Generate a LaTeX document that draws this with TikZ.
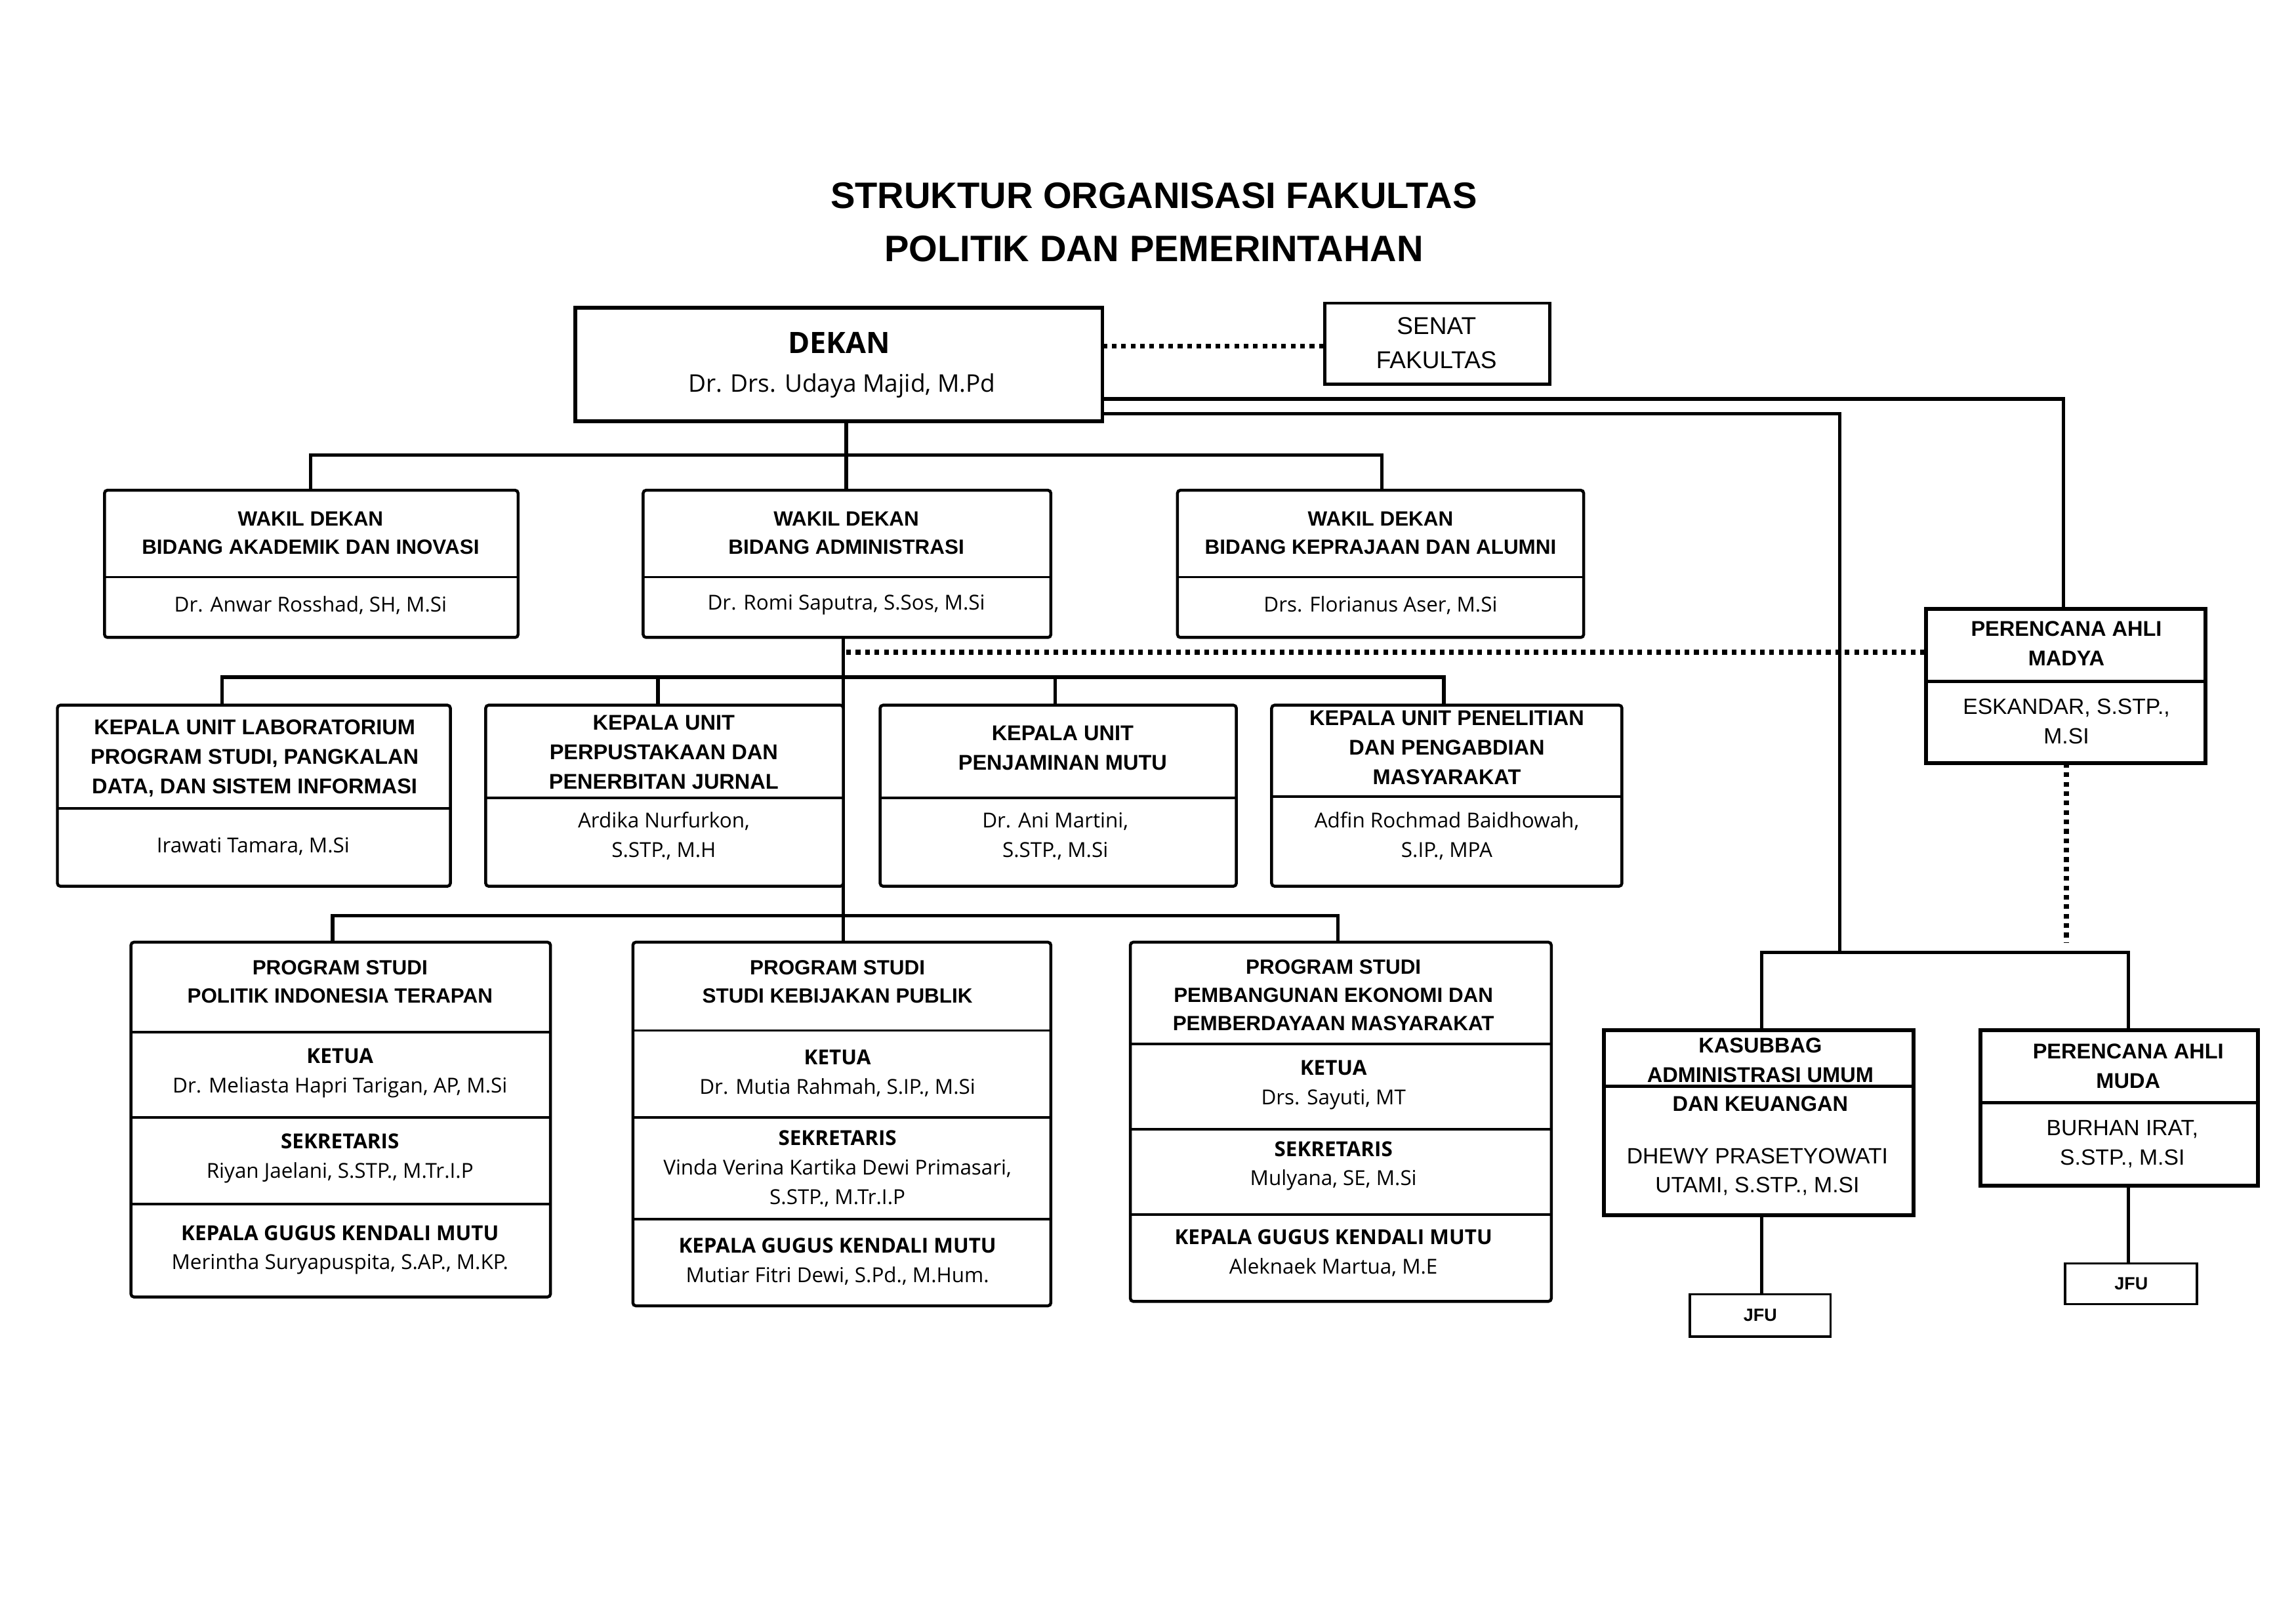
\documentclass[tikz,border=0pt]{standalone}
\usepackage{fontspec}
\setmainfont{Liberation Sans}
\newfontfamily\nf{Open Sans}
\usetikzlibrary{fit}
\begin{document}
\begin{tikzpicture}[x=1pt,y=-1pt,
 box/.style={draw,line width=2pt,fill=white,inner sep=0pt,rounded corners=2pt},
 tbox/.style={draw,line width=2.6pt,fill=white,inner sep=0pt},
 ln/.style={line width=2.4pt},
 dt/.style={line width=3.2pt,dash pattern=on 3.2pt off 3.2pt},
 hd/.style={font=\fontsize{14}{19}\selectfont\bfseries,align=center},
 nm/.style={font=\nf\fontsize{14}{20}\selectfont,align=center},
 rg/.style={font=\fontsize{15}{20}\selectfont,align=center},
 hb/.style={font=\fontsize{14.5}{20}\selectfont\bfseries,align=center}]
\useasboundingbox[fill=white] (0,0) rectangle (1560,1103);
% title
\node[font=\fontsize{25}{36}\selectfont\bfseries,align=center] (title) at (784,151) {STRUKTUR ORGANISASI FAKULTAS\\POLITIK DAN PEMERINTAHAN};
% box frames
\node[tbox,fit={(391,209)(749,286)}] (dekan) {};
\node[tbox,line width=2pt,fit={(900,206)(1053,261)}] (senat) {};
\node[box,fit={(72,334)(351,432)}] (w1) {};
\node[box,fit={(438,334)(713,432)}] (w2) {};
\node[box,fit={(801,334)(1075,432)}] (w3) {};
\node[box,fit={(40,480)(305,601)}] (k1) {};
\node[box,fit={(331,480)(572,601)}] (k2) {};
\node[box,fit={(599,480)(839,601)}] (k3) {};
\node[box,fit={(865,480)(1101,601)}] (k4) {};
\node[box,fit={(90,641)(373,880)}] (p1) {};
\node[box,fit={(431,641)(713,886)}] (p2) {};
\node[box,fit={(769,641)(1053,883)}] (p3) {};
\node[tbox,fit={(1310,415)(1497,517)}] (madya) {};
\node[tbox,fit={(1091,701)(1299,824)}] (kasub) {};
\node[tbox,fit={(1347,701)(1533,804)}] (muda) {};
\node[draw,line width=1.6pt,fill=white,fit={(1149,880)(1243,907)},inner sep=0] (jfu1) {};
\node[draw,line width=1.6pt,fill=white,fit={(1404,859)(1492,885)},inner sep=0] (jfu2) {};
% connectors
\coordinate (d1) at (575,309);
\coordinate (a) at (573,460);
\coordinate (b) at (573,622);
\coordinate (r) at (1250,647);
\begin{scope}[on background layer/.style={}]
\end{scope}
\begin{pgfinterruptboundingbox}\end{pgfinterruptboundingbox}
\draw[dt] (dekan.east|-senat.west) ++(0,-6) coordinate (s0) (749,235) -- (senat.west|-0,235);
\draw[ln] (dekan.south-|d1) -- (d1);
\draw[ln] (w1.north-|211,0) -- (211,309) -- (939,309) -- (w3.north-|939,0);
\draw[ln] (d1) -- (w2.north-|d1);
\draw[ln] (w2.south-|a) -- (b);
\draw[ln] (k1.north-|151,0) -- (151,460) -- (981,460) -- (k4.north-|981,0);
\draw[ln] (447,460) -- (k2.north-|447,0);
\draw[ln] (717,460) -- (k3.north-|717,0);
\draw[ln] (p1.north-|226,0) -- (226,622) -- (909,622) -- (p3.north-|909,0);
\draw[ln] (b) -- (p2.north-|573,0);
\draw[dt] (575,443) -- (madya.west|-0,443);
\draw[ln] (749,271) -- (1402,271) -- (madya.north-|1402,0);
\draw[ln] (749,281) -- (1250,281) -- (r);
\draw[dt] (madya.south-|1404,0) -- (1404,640);
\draw[ln] (kasub.north-|1197,0) -- (1197,647) -- (1446,647) -- (muda.north-|1446,0);
\draw[ln] (kasub.south-|1197,0) -- (jfu1.north-|1197,0);
\draw[ln] (muda.south-|1446,0) -- (jfu2.north-|1446,0);
% redraw boxes on top
\foreach \n in {w1,w2,w3,k1,k2,k3,k4,p1,p2,p3}{\draw[line width=2pt,rounded corners=2pt,fill=white] (\n.north west) rectangle (\n.south east);}
\foreach \n in {madya,kasub,muda}{\draw[line width=2.6pt,fill=white] (\n.north west) rectangle (\n.south east);}
\draw[line width=1.6pt,fill=white] (jfu1.north west) rectangle (jfu1.south east);
\draw[line width=1.6pt,fill=white] (jfu2.north west) rectangle (jfu2.south east);
% dividers
\foreach \n/\y in {w1/392,w2/392,w3/392,k1/549,k2/542,k3/542,k4/541,p1/701,p1/759,p1/818,p2/700,p2/759,p2/828,p3/709,p3/767,p3/825}
 {\draw[line width=1.6pt] (\n.west|-0,\y) -- (\n.east|-0,\y);}
\foreach \n/\y in {madya/463,kasub/738,muda/749}
 {\draw[line width=2.4pt] (\n.west|-0,\y) -- (\n.east|-0,\y);}
% texts
\node[font=\nf\fontsize{20}{24}\selectfont\bfseries] at (570,233) {DEKAN};
\node[font=\nf\fontsize{16.5}{20}\selectfont] at (572,262) {Dr. Drs. Udaya Majid, M.Pd};
\node[rg,font=\fontsize{16.5}{23}\selectfont] at (976,233) {SENAT\\FAKULTAS};
\node[hd] at (211,362) {WAKIL DEKAN\\BIDANG AKADEMIK DAN INOVASI};
\node[nm] at (211,411) {Dr. Anwar Rosshad, SH, M.Si};
\node[hd] at (575,362) {WAKIL DEKAN\\BIDANG ADMINISTRASI};
\node[nm] at (575,411) {Dr. Romi Saputra, S.Sos, M.Si};
\node[hd] at (938,362) {WAKIL DEKAN\\BIDANG KEPRAJAAN DAN ALUMNI};
\node[nm] at (938,411) {Drs. Florianus Aser, M.Si};
\node[hb] at (173,515) {KEPALA UNIT LABORATORIUM\\PROGRAM STUDI, PANGKALAN\\DATA, DAN SISTEM INFORMASI};
\node[nm] at (172,575) {Irawati Tamara, M.Si};
\node[hb] at (451,511) {KEPALA UNIT\\PERPUSTAKAAN DAN\\PENERBITAN JURNAL};
\node[nm] at (451,568) {Ardika Nurfurkon,\\S.STP., M.H};
\node[hb] at (722,508) {KEPALA UNIT\\PENJAMINAN MUTU};
\node[nm] at (717,568) {Dr. Ani Martini,\\S.STP., M.Si};
\node[hb] at (983,508) {KEPALA UNIT PENELITIAN\\DAN PENGABDIAN\\MASYARAKAT};
\node[nm] at (983,568) {Adfin Rochmad Baidhowah,\\S.IP., MPA};
% prodi
\node[hd] at (231,667) {PROGRAM STUDI\\POLITIK INDONESIA TERAPAN};
\node[nm] at (231,729) {\textbf{KETUA}\\Dr. Meliasta Hapri Tarigan, AP, M.Si};
\node[nm] at (231,787) {\textbf{SEKRETARIS}\\Riyan Jaelani, S.STP., M.Tr.I.P};
\node[nm] at (231,849) {\textbf{KEPALA GUGUS KENDALI MUTU}\\Merintha Suryapuspita, S.AP., M.KP.};
\node[hd] at (569,667) {PROGRAM STUDI\\STUDI KEBIJAKAN PUBLIK};
\node[nm] at (569,729) {\textbf{KETUA}\\Dr. Mutia Rahmah, S.IP., M.Si};
\node[nm] at (569,794) {\textbf{SEKRETARIS}\\Vinda Verina Kartika Dewi Primasari,\\S.STP., M.Tr.I.P};
\node[nm] at (569,857) {\textbf{KEPALA GUGUS KENDALI MUTU}\\Mutiar Fitri Dewi, S.Pd., M.Hum.};
\node[hd] at (906,676) {PROGRAM STUDI\\PEMBANGUNAN EKONOMI DAN\\PEMBERDAYAAN MASYARAKAT};
\node[nm] at (906,737) {\textbf{KETUA}\\Drs. Sayuti, MT};
\node[nm] at (906,792) {\textbf{SEKRETARIS}\\Mulyana, SE, M.Si};
\node[nm] at (906,851) {\textbf{KEPALA GUGUS KENDALI MUTU}\\Aleknaek Martua, M.E};
% right side
\node[hb] at (1404,437) {PERENCANA AHLI\\MADYA};
\node[rg] at (1404,490) {ESKANDAR, S.STP.,\\M.SI};
\node[hb] at (1196,730) {KASUBBAG\\ADMINISTRASI UMUM\\DAN KEUANGAN};
\node[rg] at (1194,796) {DHEWY PRASETYOWATI\\UTAMI, S.STP., M.SI};
\node[hb] at (1446,724) {PERENCANA AHLI\\MUDA};
\node[rg] at (1442,777) {BURHAN IRAT,\\S.STP., M.SI};
\node[font=\fontsize{12}{14}\selectfont\bfseries] at (jfu1) {JFU};
\node[font=\fontsize{12}{14}\selectfont\bfseries] at (jfu2) {JFU};
\end{tikzpicture}
\end{document}
